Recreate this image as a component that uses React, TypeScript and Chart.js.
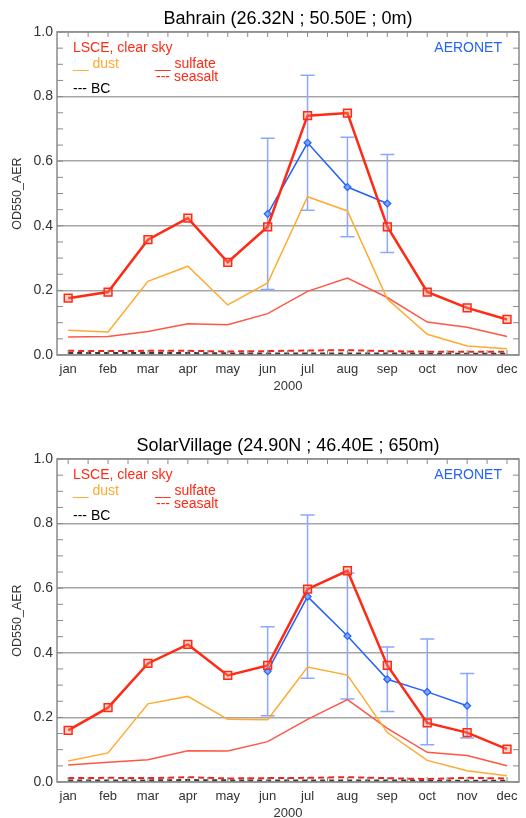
import React, { useEffect, useRef } from 'react';
import { Chart, registerables } from 'chart.js';

Chart.register(...registerables);

// ---------- data ----------
const months = ['jan', 'feb', 'mar', 'apr', 'may', 'jun', 'jul', 'aug', 'sep', 'oct', 'nov', 'dec'];
const monthIndex = [0, 1, 2, 3, 4, 5, 6, 7, 8, 9, 10, 11];
const yearLabel = '2000';
const yAxisLabel = 'OD550_AER';

const bahrainTitle = 'Bahrain (26.32N ; 50.50E ; 0m)';
const bahrainTotal = [0.176, 0.195, 0.357, 0.424, 0.287, 0.397, 0.741, 0.749, 0.397, 0.195, 0.146, 0.110];
const bahrainDust = [0.077, 0.071, 0.228, 0.275, 0.155, 0.223, 0.490, 0.446, 0.173, 0.064, 0.028, 0.019];
const bahrainSulfate = [0.056, 0.057, 0.073, 0.097, 0.094, 0.128, 0.197, 0.238, 0.178, 0.102, 0.086, 0.057];
const bahrainSeasalt = [0.013, 0.012, 0.013, 0.013, 0.011, 0.012, 0.014, 0.015, 0.012, 0.010, 0.010, 0.010];
const bahrainBC = [0.006, 0.006, 0.006, 0.006, 0.005, 0.005, 0.005, 0.005, 0.005, 0.004, 0.004, 0.004];
const bahrainAeronet = [null, null, null, null, null, 0.437, 0.657, 0.520, 0.469, null, null, null];
const bahrainAeronetStd = [null, null, null, null, null, 0.234, 0.209, 0.154, 0.152, null, null, null];

const solarTitle = 'SolarVillage (24.90N ; 46.40E ; 650m)';
const solarTotal = [0.160, 0.230, 0.367, 0.426, 0.330, 0.361, 0.597, 0.654, 0.361, 0.183, 0.153, 0.102];
const solarDust = [0.065, 0.090, 0.242, 0.265, 0.194, 0.193, 0.356, 0.331, 0.153, 0.067, 0.035, 0.019];
const solarSulfate = [0.053, 0.061, 0.069, 0.097, 0.096, 0.125, 0.194, 0.255, 0.166, 0.092, 0.082, 0.050];
const solarSeasalt = [0.012, 0.013, 0.012, 0.015, 0.011, 0.012, 0.013, 0.015, 0.012, 0.009, 0.013, 0.011];
const solarBC = [0.005, 0.005, 0.005, 0.006, 0.005, 0.005, 0.005, 0.005, 0.005, 0.004, 0.004, 0.004];
const solarAeronet = [null, null, null, null, null, 0.343, 0.574, 0.452, 0.318, 0.279, 0.236, null];
const solarAeronetStd = [null, null, null, null, null, 0.138, 0.253, 0.195, 0.100, 0.164, 0.100, null];

// ---------- styles ----------
const FONT = '"Liberation Sans", Arial, Helvetica, sans-serif';
const RED = '#ff2a14';
const RED_LIGHT = '#ff5646';
const ORANGE = '#ffaa30';
const BLUE = '#2362ff';
const ERR_BLUE = '#8aa8ff';
const GRID = '#a6a6a6';
const FRAME = '#8a8a8a';
const TEXT = '#333333';

type PanelProps = {
  title: string;
  total: number[];
  dust: number[];
  sulfate: number[];
  seasalt: number[];
  bc: number[];
  aeronet: (number | null)[];
  aeronetStd: (number | null)[];
  height: number;
  topPad: number;
};

function Panel(props: PanelProps) {
  const ref = useRef<HTMLCanvasElement | null>(null);

  useEffect(() => {
    const canvas = ref.current;
    if (!canvas) return;
    const { title, total, dust, sulfate, seasalt, bc, aeronet, aeronetStd, topPad } = props;
    const pts = (arr: (number | null)[]) => arr.map((v, i) => ({ x: monthIndex[i], y: v }));

    const decor = {
      id: 'decor',
      beforeDatasetsDraw(chart: any) {
        const { ctx, scales } = chart;
        const xs = scales.x;
        const ys = scales.y;
        ctx.save();
        ctx.strokeStyle = ERR_BLUE;
        ctx.lineWidth = 1.5;
        aeronet.forEach((v, i) => {
          const s = aeronetStd[i];
          if (v == null || s == null) return;
          const px = xs.getPixelForValue(monthIndex[i]);
          const t = ys.getPixelForValue(v + s);
          const b = ys.getPixelForValue(v - s);
          ctx.beginPath();
          ctx.moveTo(px, t);
          ctx.lineTo(px, b);
          ctx.moveTo(px - 7, t);
          ctx.lineTo(px + 7, t);
          ctx.moveTo(px - 7, b);
          ctx.lineTo(px + 7, b);
          ctx.stroke();
        });
        ctx.restore();
      },
      afterDraw(chart: any) {
        const { ctx, chartArea, scales } = chart;
        const xs = scales.x;
        const ys = scales.y;
        const { left, right, top, bottom } = chartArea;
        ctx.save();
        // frame
        ctx.strokeStyle = FRAME;
        ctx.lineWidth = 1.5;
        ctx.strokeRect(left, top, right - left, bottom - top);
        // minor ticks
        ctx.lineWidth = 1;
        ctx.beginPath();
        for (let k = 0; k <= 22; k++) {
          const px = xs.getPixelForValue(k * 0.5);
          ctx.moveTo(px, bottom);
          ctx.lineTo(px, bottom - 5);
          ctx.moveTo(px, top);
          ctx.lineTo(px, top + 5);
        }
        for (let k = 0; k <= 20; k++) {
          const py = ys.getPixelForValue(k * 0.05);
          ctx.moveTo(left, py);
          ctx.lineTo(left + 6, py);
          ctx.moveTo(right, py);
          ctx.lineTo(right - 6, py);
        }
        ctx.stroke();

        // title
        ctx.fillStyle = '#000';
        ctx.font = `18px ${FONT}`;
        ctx.textAlign = 'center';
        ctx.textBaseline = 'alphabetic';
        ctx.fillText(title, (left + right) / 2, top - 8.5);

        // legend notes
        ctx.font = `14px ${FONT}`;
        ctx.textAlign = 'left';
        ctx.fillStyle = RED;
        ctx.fillText('LSCE, clear sky', left + 16, top + 20);
        ctx.fillStyle = ORANGE;
        ctx.fillText('__ dust', left + 16, top + 36);
        ctx.fillStyle = RED;
        ctx.fillText('__ sulfate', left + 98, top + 36);
        ctx.fillText('--- seasalt', left + 99, top + 49);
        ctx.fillStyle = '#000';
        ctx.fillText('--- BC', left + 16, top + 61);
        ctx.fillStyle = BLUE;
        ctx.textAlign = 'right';
        ctx.fillText('AERONET', right - 17, top + 20);
        ctx.restore();
      },
    };

    const chart = new Chart(canvas, {
      type: 'line',
      data: {
        datasets: [
          {
            label: 'total',
            data: pts(total),
            borderColor: RED,
            borderWidth: 2.5,
            pointStyle: 'rect',
            pointRadius: 5.5,
            pointBorderColor: RED,
            pointBorderWidth: 1.5,
            pointBackgroundColor: 'rgba(255,140,120,0.35)',
            tension: 0,
          },
          {
            label: 'AERONET',
            data: pts(aeronet),
            borderColor: BLUE,
            borderWidth: 1.5,
            pointStyle: 'rectRot',
            pointRadius: 3.5,
            pointBorderColor: BLUE,
            pointBorderWidth: 1.2,
            pointBackgroundColor: '#7ea6ff',
            spanGaps: false,
            tension: 0,
          },
          {
            label: 'dust',
            data: pts(dust),
            borderColor: ORANGE,
            borderWidth: 1.5,
            pointRadius: 0,
            tension: 0,
          },
          {
            label: 'sulfate',
            data: pts(sulfate),
            borderColor: RED_LIGHT,
            borderWidth: 1.5,
            pointRadius: 0,
            tension: 0,
          },
          {
            label: 'seasalt',
            data: pts(seasalt),
            borderColor: '#e8281e',
            borderWidth: 2,
            borderDash: [6, 4],
            pointRadius: 0,
            tension: 0,
          },
          {
            label: 'BC',
            data: pts(bc),
            borderColor: '#3a3a3a',
            borderWidth: 2,
            borderDash: [5, 4],
            pointRadius: 0,
            tension: 0,
          },
        ],
      },
      options: {
        responsive: false,
        animation: false,
        devicePixelRatio: 1,
        layout: { padding: { top: topPad, right: 4, bottom: 0, left: 0 } },
        plugins: {
          legend: { display: false },
          tooltip: { enabled: false },
          title: { display: false },
        },
        scales: {
          x: {
            type: 'linear',
            min: -0.28,
            max: 11.3,
            afterFit: (s: any) => {
              s.height = 36;
            },
            afterBuildTicks: (s: any) => {
              s.ticks = monthIndex.map((v) => ({ value: v }));
            },
            grid: { display: false, drawTicks: false, tickLength: 0 },
            border: { display: false },
            ticks: {
              autoSkip: false,
              maxRotation: 0,
              padding: 7,
              color: TEXT,
              font: { family: FONT, size: 13 },
              callback: (v: any) => months[Math.round(Number(v))] ?? '',
            },
            title: {
              display: true,
              text: yearLabel,
              color: TEXT,
              font: { family: FONT, size: 13, lineHeight: 0.7 },
              padding: { top: 0, bottom: 0 },
            },
          },
          y: {
            type: 'linear',
            min: 0,
            max: 1,
            afterFit: (s: any) => {
              s.width = 57;
            },
            grid: { color: GRID, lineWidth: 1.5, drawTicks: false, tickLength: 0 },
            border: { display: false },
            ticks: {
              stepSize: 0.2,
              padding: 4,
              color: TEXT,
              font: { family: FONT, size: 14 },
              callback: (v: any) => Number(v).toFixed(1),
            },
            title: {
              display: true,
              text: yAxisLabel,
              color: TEXT,
              font: { family: FONT, size: 12.5 },
              padding: { top: 10, bottom: 0 },
            },
          },
        },
      },
      plugins: [decor],
    } as any);

    return () => {
      chart.destroy();
    };
  }, []);

  return (
    <canvas
      ref={ref}
      width={526}
      height={props.height}
      style={{ display: 'block', width: 526, height: props.height }}
    />
  );
}

export default function App() {
  return (
    <div style={{ position: 'absolute', left: 0, top: 0, width: 526, height: 818, background: '#fff' }}>
      <Panel
        title={bahrainTitle}
        total={bahrainTotal}
        dust={bahrainDust}
        sulfate={bahrainSulfate}
        seasalt={bahrainSeasalt}
        bc={bahrainBC}
        aeronet={bahrainAeronet}
        aeronetStd={bahrainAeronetStd}
        height={391}
        topPad={32}
      />
      <Panel
        title={solarTitle}
        total={solarTotal}
        dust={solarDust}
        sulfate={solarSulfate}
        seasalt={solarSeasalt}
        bc={solarBC}
        aeronet={solarAeronet}
        aeronetStd={solarAeronetStd}
        height={427}
        topPad={68}
      />
    </div>
  );
}
